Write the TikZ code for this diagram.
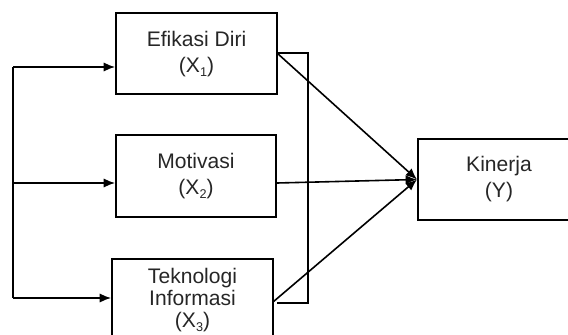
\documentclass[tikz,border=0pt]{standalone}
\usepackage{fontspec}
\setmainfont{Liberation Sans}
\usetikzlibrary{arrows.meta}

\newcommand{\lowsub}[1]{\raisebox{-3.2pt}{\fontsize{9.5}{9.5}\selectfont #1}}

\tikzset{
  varbox/.style={draw, line width=1.5pt, align=center, inner sep=0pt,
    text=black!85, font=\fontsize{15.8}{19.5}\selectfont},
  link/.style={line width=1.2pt},
  arr/.style={link, -{Latex[length=8.5pt,width=7pt]}}
}

\begin{document}
\begin{tikzpicture}[x=0.75pt,y=0.75pt,yscale=-1,xscale=1]
\useasboundingbox (0,0) rectangle (568,335);
\clip (0,0) rectangle (568,335);

% Boxes
\node [varbox, minimum width=120.75pt, minimum height=60.75pt] (x1) at (196.5,54) {Efikasi Diri\\(X\lowsub{1})};
\node [varbox, minimum width=120pt, minimum height=61.5pt] (x2) at (196,176) {Motivasi\\(X\lowsub{2})};
\node [varbox, minimum width=120.75pt, minimum height=61.5pt, font=\fontsize{15.8}{16.5}\selectfont] (x3) at (192.5,300) {Teknologi\\Informasi\\(X\lowsub{3})};
\node [varbox, minimum width=121.5pt, minimum height=60.75pt] (y) at (499,179.5) {Kinerja\\(Y)};

% left trunk
\coordinate (t1) at (13,67);
\coordinate (t2) at (13,183);
\coordinate (t3) at (13,298);
\draw [link] (t1) -- (t3);
\draw [arr] (t1) -- (t1 -| x1.west);
\draw [arr] (t2) -- (t2 -| x2.west);
\draw [arr] (t3) -- (t3 -| x3.west);

% bracket
\coordinate (b1) at (277,53);
\coordinate (b3) at (277,303);
\coordinate (c3) at (273,302);
\draw [link] (b1) -- ++(31,0) |- (b3);

% into Kinerja
\draw [arr] (b1) -- (y.west);
\draw [arr] (t2 -| x2.east) -- (y.west);
\draw [arr] (c3) -- (y.west);

\end{tikzpicture}
\end{document}
